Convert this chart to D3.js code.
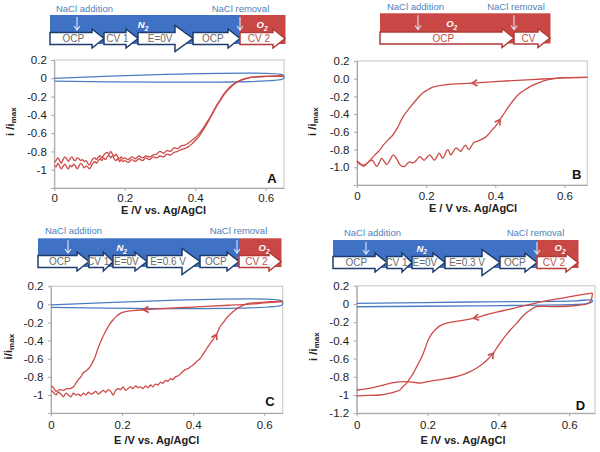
<!DOCTYPE html>
<html><head><meta charset="utf-8">
<script src="https://cdn.jsdelivr.net/npm/d3@7"></script>
<style>body{margin:0;background:#fff} svg{display:block;font-family:"Liberation Sans",Arial,sans-serif}</style>
</head><body><svg id="c" width="600" height="452"></svg>
<script>
// ---------------- DATA ----------------
const xTickVals = [0, 0.2, 0.4, 0.6];
const xTickLabels = ["0", "0.2", "0.4", "0.6"];
const yTickVals = [0.2, 0, -0.2, -0.4, -0.6, -0.8, -1, -1.2];
const yLabelsA = ["0.2", "0", "-0.2", "-0.4", "-0.6", "-0.8", "-1", ""];
const yLabelsB = ["0.2", "0.0", "-0.2", "-0.4", "-0.6", "-0.8", "-1.0", ""];
const yLabelsD = ["0.2", "0", "-0.2", "-0.4", "-0.6", "-0.8", "-1", "-1.2"];

// Panel A  (E [V], i/imax)
const aBlue = [[0,0.0],[0.65,0.035],[0.652,0.015],[0.65,-0.005],[0,-0.03]];
const aRed1 = [[0,-0.92],[0.005,-0.9],[0.01,-0.87],[0.015,-0.9],[0.02,-0.93],[0.025,-0.89],[0.03,-0.86],[0.035,-0.88],[0.04,-0.91],[0.045,-0.88],[0.05,-0.86],[0.055,-0.89],[0.06,-0.9],[0.065,-0.87],[0.07,-0.88],[0.075,-0.9],[0.08,-0.89],[0.085,-0.91],[0.09,-0.9],[0.095,-0.93],[0.1,-0.95],[0.105,-0.91],[0.11,-0.88],[0.115,-0.87],[0.12,-0.89],[0.125,-0.86],[0.13,-0.85],[0.135,-0.87],[0.14,-0.84],[0.145,-0.82],[0.15,-0.81],[0.155,-0.83],[0.16,-0.8],[0.165,-0.83],[0.17,-0.85],[0.175,-0.83],[0.18,-0.86],[0.185,-0.88],[0.19,-0.86],[0.195,-0.88],[0.2,-0.87],[0.21,-0.89],[0.22,-0.86],[0.23,-0.88],[0.24,-0.85],[0.25,-0.87],[0.26,-0.85],[0.27,-0.86],[0.28,-0.84],[0.29,-0.83],[0.3,-0.8],[0.31,-0.82],[0.32,-0.79],[0.33,-0.8],[0.34,-0.76],[0.35,-0.77],[0.36,-0.74],[0.37,-0.73],[0.38,-0.71],[0.39,-0.68],[0.4,-0.65],[0.41,-0.61],[0.42,-0.56],[0.43,-0.5],[0.44,-0.44],[0.45,-0.37],[0.46,-0.3],[0.47,-0.24],[0.48,-0.18],[0.49,-0.13],[0.5,-0.09],[0.51,-0.06],[0.52,-0.035],[0.53,-0.02],[0.54,-0.005],[0.55,0.005],[0.56,0.012],[0.58,0.018],[0.6,0.02],[0.65,0.025]];
const aRed2 = [[0,-0.95],[0.005,-0.97],[0.01,-0.93],[0.015,-0.96],[0.02,-0.99],[0.025,-0.96],[0.03,-0.94],[0.035,-0.97],[0.04,-0.99],[0.045,-0.95],[0.05,-0.97],[0.055,-0.94],[0.06,-0.96],[0.065,-0.99],[0.07,-0.96],[0.075,-0.93],[0.08,-0.95],[0.085,-0.98],[0.09,-0.96],[0.095,-0.97],[0.1,-0.99],[0.105,-0.96],[0.11,-0.93],[0.115,-0.91],[0.12,-0.93],[0.125,-0.9],[0.13,-0.88],[0.135,-0.9],[0.14,-0.87],[0.145,-0.89],[0.15,-0.86],[0.155,-0.84],[0.16,-0.87],[0.165,-0.85],[0.17,-0.88],[0.175,-0.9],[0.18,-0.88],[0.185,-0.91],[0.19,-0.89],[0.195,-0.91],[0.2,-0.9],[0.21,-0.92],[0.22,-0.89],[0.23,-0.91],[0.24,-0.88],[0.25,-0.9],[0.26,-0.87],[0.27,-0.89],[0.28,-0.86],[0.29,-0.87],[0.3,-0.85],[0.31,-0.86],[0.32,-0.83],[0.33,-0.84],[0.34,-0.81],[0.35,-0.8],[0.36,-0.78],[0.37,-0.77],[0.38,-0.75],[0.39,-0.72],[0.4,-0.68],[0.41,-0.64],[0.42,-0.58],[0.43,-0.52],[0.44,-0.45],[0.45,-0.38],[0.46,-0.31],[0.47,-0.25],[0.48,-0.19],[0.49,-0.14],[0.5,-0.1],[0.51,-0.065],[0.52,-0.04],[0.53,-0.02],[0.54,-0.008],[0.55,0.003],[0.56,0.01],[0.58,0.017],[0.6,0.02],[0.65,0.025]];

// Panel B
const bCath = [[0.666,0.015],[0.6,0.012],[0.552,0.0],[0.505,-0.01],[0.41,-0.03],[0.333,-0.05],[0.257,-0.068],[0.219,-0.094],[0.205,-0.125],[0.19,-0.16],[0.171,-0.24],[0.152,-0.33],[0.133,-0.43],[0.119,-0.54],[0.105,-0.63],[0.09,-0.69],[0.076,-0.75],[0.067,-0.8],[0.052,-0.86],[0.038,-0.92],[0.024,-0.97],[0.01,-0.97],[0.002,-0.94],[0,-0.93]];
const bAnod = [[0,-0.93],[0.01,-0.96],[0.019,-0.99],[0.03,-0.95],[0.043,-0.92],[0.05,-0.95],[0.057,-0.99],[0.064,-0.95],[0.071,-0.9],[0.078,-0.93],[0.086,-0.97],[0.095,-0.92],[0.105,-0.86],[0.114,-0.9],[0.124,-0.97],[0.131,-0.99],[0.138,-0.99],[0.145,-0.96],[0.152,-0.94],[0.16,-0.95],[0.167,-0.94],[0.174,-0.91],[0.181,-0.88],[0.188,-0.9],[0.195,-0.92],[0.202,-0.89],[0.21,-0.86],[0.217,-0.89],[0.224,-0.92],[0.231,-0.88],[0.238,-0.84],[0.243,-0.87],[0.248,-0.9],[0.255,-0.85],[0.262,-0.8],[0.267,-0.83],[0.271,-0.86],[0.279,-0.82],[0.286,-0.78],[0.293,-0.8],[0.3,-0.82],[0.307,-0.78],[0.314,-0.75],[0.319,-0.78],[0.324,-0.8],[0.331,-0.76],[0.338,-0.72],[0.345,-0.71],[0.357,-0.69],[0.37,-0.665],[0.38,-0.63],[0.39,-0.58],[0.4,-0.54],[0.414,-0.46],[0.429,-0.37],[0.443,-0.29],[0.457,-0.22],[0.471,-0.165],[0.486,-0.125],[0.505,-0.08],[0.524,-0.05],[0.54,-0.025],[0.552,-0.01],[0.57,0.0],[0.6,0.01],[0.666,0.015]];

// Panel C
const cBlue = [[0,-0.005],[0.65,0.037],[0.652,0.015],[0.65,-0.007],[0,-0.033]];
const cCath = [[0.652,0.03],[0.6,0.015],[0.55,0.0],[0.5,-0.01],[0.45,-0.02],[0.4,-0.03],[0.35,-0.04],[0.3,-0.05],[0.26,-0.06],[0.23,-0.07],[0.21,-0.08],[0.195,-0.1],[0.185,-0.13],[0.175,-0.17],[0.165,-0.22],[0.156,-0.28],[0.147,-0.35],[0.138,-0.43],[0.131,-0.5],[0.124,-0.58],[0.117,-0.64],[0.11,-0.69],[0.1,-0.73],[0.09,-0.76],[0.084,-0.8],[0.077,-0.83],[0.07,-0.87],[0.063,-0.91],[0.054,-0.93],[0.044,-0.93],[0.035,-0.95],[0.025,-0.94],[0.015,-0.96],[0.007,-0.92],[0,-0.9]];
const cAnod = [[0,-0.95],[0.007,-0.97],[0.014,-1.0],[0.021,-0.97],[0.028,-0.99],[0.035,-1.02],[0.042,-0.98],[0.049,-1.0],[0.056,-1.02],[0.063,-0.98],[0.07,-1.0],[0.077,-0.99],[0.084,-1.01],[0.091,-0.98],[0.098,-1.0],[0.105,-0.97],[0.112,-0.99],[0.119,-0.98],[0.126,-0.96],[0.133,-0.99],[0.14,-0.97],[0.147,-0.95],[0.154,-0.97],[0.161,-0.94],[0.168,-0.96],[0.175,-1.0],[0.182,-0.95],[0.189,-0.93],[0.196,-0.94],[0.203,-0.91],[0.21,-0.95],[0.217,-0.93],[0.224,-0.91],[0.231,-0.93],[0.238,-0.9],[0.245,-0.92],[0.252,-0.91],[0.259,-0.93],[0.266,-0.9],[0.273,-0.92],[0.28,-0.89],[0.287,-0.91],[0.294,-0.88],[0.301,-0.89],[0.308,-0.86],[0.315,-0.87],[0.322,-0.84],[0.329,-0.85],[0.336,-0.82],[0.343,-0.83],[0.35,-0.8],[0.357,-0.79],[0.364,-0.77],[0.371,-0.74],[0.378,-0.72],[0.385,-0.71],[0.392,-0.69],[0.4,-0.67],[0.41,-0.63],[0.419,-0.6],[0.428,-0.55],[0.438,-0.49],[0.448,-0.43],[0.457,-0.38],[0.466,-0.33],[0.475,-0.25],[0.485,-0.2],[0.494,-0.15],[0.504,-0.11],[0.513,-0.08],[0.522,-0.05],[0.531,-0.03],[0.54,-0.012],[0.55,0.005],[0.57,0.015],[0.6,0.025],[0.652,0.035]];

// Panel D
const dBlue = [[0,0.007],[0.32,0.022],[0.62,0.035],[0.655,0.045],[0.666,0.04],[0.663,0.02],[0.65,0.005],[0.62,-0.005],[0.32,-0.02],[0,-0.03]];
const dCath = [[0.666,0.12],[0.63,0.1],[0.603,0.08],[0.57,0.058],[0.537,0.036],[0.5,0.005],[0.461,-0.03],[0.43,-0.06],[0.395,-0.09],[0.36,-0.125],[0.33,-0.157],[0.29,-0.185],[0.254,-0.21],[0.235,-0.24],[0.221,-0.286],[0.21,-0.34],[0.202,-0.396],[0.193,-0.49],[0.184,-0.58],[0.172,-0.67],[0.16,-0.76],[0.15,-0.82],[0.141,-0.87],[0.13,-0.91],[0.122,-0.945],[0.108,-0.965],[0.094,-0.98],[0.066,-1.0],[0.03,-1.005],[0,-1.01]];
const dAnod = [[0,-0.945],[0.03,-0.93],[0.066,-0.9],[0.103,-0.865],[0.141,-0.854],[0.16,-0.86],[0.179,-0.87],[0.197,-0.855],[0.216,-0.843],[0.245,-0.825],[0.273,-0.805],[0.3,-0.775],[0.32,-0.744],[0.34,-0.7],[0.358,-0.652],[0.372,-0.6],[0.386,-0.54],[0.396,-0.48],[0.405,-0.43],[0.42,-0.35],[0.435,-0.28],[0.452,-0.21],[0.47,-0.13],[0.49,-0.066],[0.508,-0.03],[0.55,-0.028],[0.603,-0.022],[0.635,-0.01],[0.65,0.0],[0.66,0.03],[0.664,0.07],[0.666,0.12]];

// Timeline diagrams: stage names, relative durations, gas, emphasised stage
const stagesA = ["OCP","CV 1","E=0V","OCP","CV 2"];
const durA = [54,34,55,47,45];
const gasA = ["N2","N2","N2","N2","O2"];
const bigA = [0,0,1,0,0];
const naclA = [27,190];
const stagesB = ["OCP","CV"];
const durB = [134,36];
const gasB = ["O2","O2"];
const bigB = [0,0];
const naclB = [38,134];
const stagesC = ["OCP","CV 1","E=0V","E=0.6 V","OCP","CV 2"];
const durC = [51,24,34,53,39,42];
const gasC = ["N2","N2","N2","N2","N2","O2"];
const bigC = [0,0,0,1,0,0];
const naclC = [30,199];
const stagesD = ["OCP","CV 1","E=0V","E=0.3 V","OCP","CV 2"];
const durD = [54,25,33,55,37,41];
const gasD = ["N2","N2","N2","N2","N2","O2"];
const bigD = [0,0,0,1,0,0];
const naclD = [33,204];

// ---------------- STYLE / LAYOUT ----------------
const BLUE = "#4a7cc4", RED = "#cc4b47";
const BAR = {N2: "#3f72c4", O2: "#c94744"};
const OUTLINE = {N2: "#1f3c6e", O2: "#b23a37"};
const TXT = {N2: "#6a6a6a", O2: "#c0504d"};
const svg = d3.select("#c");

function chevron(g, pts, x, y, E, color) {
  let best = 1, bd = 1e9;
  for (let i = 1; i < pts.length - 1; i++) { const d = Math.abs(pts[i][0] - E); if (d < bd) { bd = d; best = i; } }
  const p0 = pts[best - 1], p1 = pts[best + 1], p = pts[best];
  const ang = Math.atan2(y(p1[1]) - y(p0[1]), x(p1[0]) - x(p0[0]));
  const tx = x(p[0]), ty = y(p[1]), L = 6, a = 0.55;
  g.append("path")
    .attr("d", `M${tx - L*Math.cos(ang - a)},${ty - L*Math.sin(ang - a)} L${tx},${ty} L${tx - L*Math.cos(ang + a)},${ty - L*Math.sin(ang + a)}`)
    .attr("fill", "none").attr("stroke", color).attr("stroke-width", 1.6);
}

function drawPlot(p) {
  const g = svg.append("g");
  const x = d3.scaleLinear().domain([0, p.xmax]).range([p.l, p.r]);
  const y = d3.scaleLinear().domain([-1.2, 0.2]).range([p.b, p.t]);
  g.append("rect").attr("x", p.l).attr("y", p.t).attr("width", p.r - p.l).attr("height", p.b - p.t)
    .attr("fill", "none").attr("stroke", "#c4c4c4").attr("stroke-width", 1);
  const xa = g.append("g").attr("transform", `translate(0,${p.b})`)
    .call(d3.axisBottom(x).tickValues(xTickVals).tickFormat((d, i) => xTickLabels[i]).tickSizeInner(3).tickSizeOuter(0).tickPadding(p.xpad));
  const ya = g.append("g").attr("transform", `translate(${p.l},0)`)
    .call(d3.axisLeft(y).tickValues(yTickVals).tickFormat((d, i) => p.yLabels[i]).tickSizeInner(3).tickSizeOuter(0).tickPadding(4.5));
  [xa, ya].forEach(a => {
    a.select(".domain").attr("stroke", "#a6a6a6");
    a.selectAll(".tick line").attr("stroke", "#a6a6a6");
    a.selectAll("text").attr("font-size", 11.5).attr("fill", "#222").attr("font-family", "Liberation Sans, Arial, sans-serif");
  });
  const line = d3.line().x(d => x(d[0])).y(d => y(d[1])).curve(d3.curveCatmullRom.alpha(0.5));
  p.curves.forEach(c => {
    g.append("path").attr("d", line(c.d)).attr("fill", "none").attr("stroke", c.c).attr("stroke-width", 1.3).attr("stroke-linejoin", "round");
  });
  p.arrows.forEach(a => chevron(g, a.d, x, y, a.E, RED));
  g.append("text").attr("x", p.xt[0]).attr("y", p.xt[1]).attr("text-anchor", "middle")
    .attr("font-size", 11).attr("font-weight", "bold").attr("fill", "#222").text(p.xTitle);
  const yt = g.append("text").attr("transform", `translate(${p.yt[0]},${p.yt[1]}) rotate(-90)`)
    .attr("text-anchor", "middle").attr("dominant-baseline", "central")
    .attr("font-size", 11.5).attr("font-weight", "bold").attr("fill", "#222");
  yt.append("tspan").text(p.yTitle);
  yt.append("tspan").attr("font-size", 8).attr("dy", 3).text("max");
  g.append("text").attr("x", p.letter[0]).attr("y", p.letter[1]).attr("text-anchor", "middle")
    .attr("font-size", 13).attr("font-weight", "bold").attr("fill", "#111").text(p.id);
}

function drawDiagram(d) {
  const g = svg.append("g");
  const total = d3.sum(d.dur);
  const t = d3.scaleLinear().domain([0, total]).range([d.x0, d.x0 + total]);
  const starts = d.dur.map((v, i) => d3.sum(d.dur.slice(0, i)));
  d.stages.forEach((s, i) => {
    g.append("rect").attr("x", t(starts[i])).attr("y", d.top).attr("width", t(starts[i] + d.dur[i]) - t(starts[i]) + 0.5)
      .attr("height", d.bot - d.top).attr("fill", BAR[d.gas[i]]);
  });
  const lab = (txt, pos) => g.append("text").attr("x", pos[0]).attr("y", pos[1]).attr("text-anchor", "middle")
    .attr("font-size", 9.5).attr("fill", "#4f7fba").text(txt);
  lab("NaCl addition", d.addLab); lab("NaCl removal", d.remLab);
  d.nacl.forEach(v => {
    const xx = t(v), y1 = d.top + 2, y2 = d.bot - 14;
    g.append("path").attr("d", `M${xx},${y1} L${xx},${y2} M${xx - 3},${y2 - 4} L${xx},${y2} L${xx + 3},${y2 - 4}`)
      .attr("fill", "none").attr("stroke", "#dfe8f5").attr("stroke-width", 1.1);
  });
  const bt = d.bot - 11.5, bb = d.bot + 0.5, mid = (bt + bb) / 2;
  d.stages.forEach((s, i) => {
    const xs = t(starts[i]), xe = t(starts[i] + d.dur[i]);
    const big = d.big[i] === 1;
    const h = big ? 18 : Math.min(12, (xe - xs) * 0.4), hx = big ? 7 : 3.5;
    g.append("path").attr("d",
      `M${xs},${bt} L${xe - h},${bt} L${xe - h},${bt - hx} L${xe},${mid} L${xe - h},${bb + hx} L${xe - h},${bb} L${xs},${bb} Z`)
      .attr("fill", "#fff").attr("stroke", OUTLINE[d.gas[i]]).attr("stroke-width", 1.5).attr("stroke-linejoin", "miter");
    g.append("text").attr("x", (xs + xe - h * 0.6) / 2).attr("y", mid).attr("dy", "0.35em").attr("text-anchor", "middle")
      .attr("font-size", 10).attr("fill", TXT[d.gas[i]]).text(s);
  });
  d.gasLab.forEach(gl => {
    const tx = g.append("text").attr("x", gl[1]).attr("y", gl[2]).attr("dy", "0.35em").attr("text-anchor", "middle")
      .attr("font-size", 9.5).attr("font-weight", "bold").attr("font-style", "italic").attr("fill", "#fff");
    tx.append("tspan").text(gl[0]);
    tx.append("tspan").attr("font-size", 6.5).attr("dy", 2.5).text("2");
  });
}

drawDiagram({stages: stagesA, dur: durA, gas: gasA, big: bigA, nacl: naclA, x0: 50, top: 15, bot: 44,
  addLab: [84.5, 11.5], remLab: [240.5, 11.5], gasLab: [["N", 143, 25], ["O", 262, 25]]});
drawDiagram({stages: stagesB, dur: durB, gas: gasB, big: bigB, nacl: naclB, x0: 380, top: 13.3, bot: 43.5,
  addLab: [415.5, 9.5], remLab: [516, 9.5], gasLab: [["O", 451.7, 24]]});
drawDiagram({stages: stagesC, dur: durC, gas: gasC, big: bigC, nacl: naclC, x0: 38, top: 238.3, bot: 267,
  addLab: [73.5, 233.5], remLab: [238.5, 233.5], gasLab: [["N", 121.7, 248], ["O", 264, 248]]});
drawDiagram({stages: stagesD, dur: durD, gas: gasD, big: bigD, nacl: naclD, x0: 333, top: 240, bot: 268,
  addLab: [372.5, 235.5], remLab: [535.5, 235.5], gasLab: [["N", 421.7, 248.5], ["O", 560, 248]]});

drawPlot({id: "A", l: 54.3, r: 284, t: 60, b: 188, xmax: 0.652, xpad: 3, yLabels: yLabelsA,
  curves: [{d: aBlue, c: BLUE}, {d: aRed1, c: RED}, {d: aRed2, c: RED}], arrows: [],
  xTitle: "E /V vs. Ag/AgCl", xt: [163.5, 214], yTitle: "i /i", yt: [9.5, 121.7], letter: [272, 183.3]});
drawPlot({id: "B", l: 357, r: 587.3, t: 61, b: 185, xmax: 0.666, xpad: 4, yLabels: yLabelsB,
  curves: [{d: bCath, c: RED}, {d: bAnod, c: RED}], arrows: [{d: bCath, E: 0.333}, {d: bAnod, E: 0.414}],
  xTitle: "E / V vs. Ag/AgCl", xt: [473, 212], yTitle: "i /i", yt: [311.7, 121.7], letter: [576.7, 179]});
drawPlot({id: "C", l: 51, r: 282.7, t: 286.2, b: 413.1, xmax: 0.652, xpad: 5, yLabels: yLabelsA,
  curves: [{d: cBlue, c: BLUE}, {d: cCath, c: RED}, {d: cAnod, c: RED}], arrows: [{d: cCath, E: 0.26}, {d: cAnod, E: 0.466}],
  xTitle: "E /V vs. Ag/AgCl", xt: [156.7, 443.5], yTitle: "i/i", yt: [7.5, 346.7], letter: [270, 406]});
drawPlot({id: "D", l: 356.7, r: 595, t: 285.8, b: 413.2, xmax: 0.673, xpad: 5, yLabels: yLabelsD,
  curves: [{d: dBlue, c: BLUE}, {d: dCath, c: RED}, {d: dAnod, c: RED}], arrows: [{d: dCath, E: 0.33}, {d: dAnod, E: 0.386}],
  xTitle: "E /V vs. Ag/AgCl", xt: [463, 443.5], yTitle: "i /i", yt: [312.7, 346.7], letter: [580.5, 410]});
</script></body></html>
